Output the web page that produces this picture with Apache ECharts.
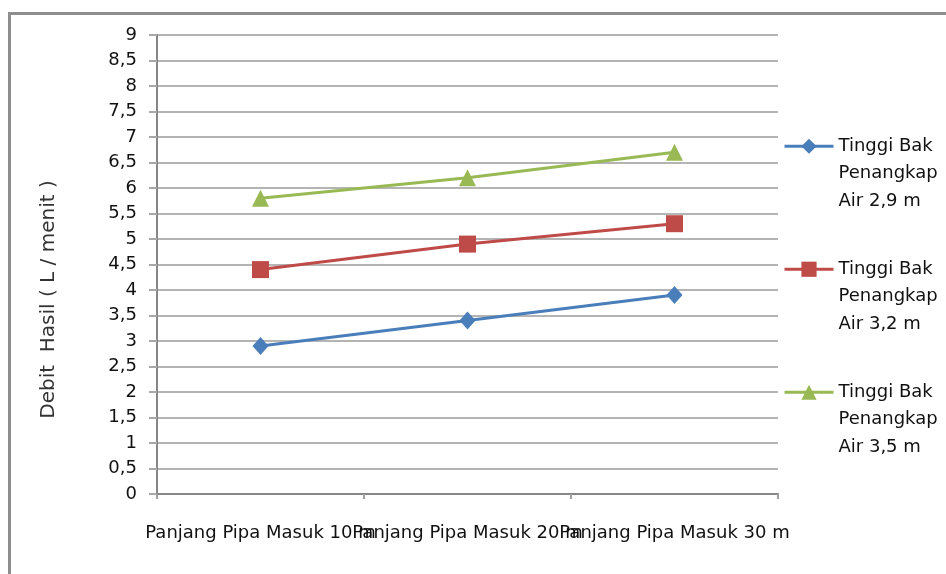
<!DOCTYPE html>
<html>
<head>
<meta charset="utf-8">
<script src="https://cdn.jsdelivr.net/npm/echarts@6/dist/echarts.min.js"></script>
<style>
html,body{margin:0;padding:0;background:#fff;}
#c{width:946px;height:574px;}
</style>
</head>
<body>
<div id="c"></div>
<script>
const categories = ['Panjang Pipa Masuk 10 m', 'Panjang Pipa Masuk 20 m', 'Panjang Pipa Masuk 30 m'];
const seriesNames = ['Tinggi Bak Penangkap Air 2,9 m', 'Tinggi Bak Penangkap Air 3,2 m', 'Tinggi Bak Penangkap Air 3,5 m'];
const values29 = [2.9, 3.4, 3.9];
const values32 = [4.4, 4.9, 5.3];
const values35 = [5.8, 6.2, 6.7];
const yTitle = 'Debit  Hasil ( L / menit )';

const colors = ['#4a7ebb', '#be4b48', '#98b954'];
const symbols = ['diamond', 'rect', 'triangle'];
const symbolSizes = [[16, 18], 17, 17];
const allValues = [values29, values32, values35];
const FONT = 'DejaVu Sans';

const chart = echarts.init(document.getElementById('c'), null, {renderer: 'canvas'});

const legendTops = [77.5, 200.5, 323.5];
const legends = seriesNames.map((n, i) => ({
  data: [n],
  orient: 'vertical',
  left: 783,
  top: legendTops[i],
  padding: 0,
  itemWidth: 49,
  itemHeight: 19,
  itemGap: 0,
  selectedMode: false,
  lineStyle: {width: 3},
  formatter: name => '\n\n' + name.replace('Bak ', 'Bak\n').replace('Penangkap ', 'Penangkap\n'),
  textStyle: {
    fontFamily: FONT, fontSize: 18, color: '#111', lineHeight: 27.5
  }
}));

chart.setOption({
  animation: false,
  backgroundColor: '#fff',
  graphic: [{
    type: 'rect', silent: true,
    shape: {x: 9.5, y: 13.5, width: 1000, height: 1000},
    style: {fill: 'none', stroke: '#8e8e8e', lineWidth: 3}
  }],
  grid: {left: 157, top: 35, width: 621, height: 459, containLabel: false},
  legend: legends,
  xAxis: {
    type: 'category',
    data: categories,
    boundaryGap: true,
    axisLine: {lineStyle: {color: '#868686', width: 2}},
    axisTick: {show: true, length: 5, interval: 0, lineStyle: {color: '#a0a0a0', width: 2}},
    axisLabel: {interval: 0, margin: 30, fontFamily: FONT, fontSize: 18, color: '#111'},
    splitLine: {show: false}
  },
  yAxis: {
    type: 'value',
    min: 0, max: 9, interval: 0.5,
    name: yTitle,
    nameLocation: 'middle',
    nameRotate: 90,
    nameGap: 98,
    nameTextStyle: {fontFamily: FONT, fontSize: 20, color: '#333', padding: [0, 70, 0, 0]},
    axisLine: {show: true, lineStyle: {color: '#868686', width: 2}},
    axisTick: {show: true, length: 8, lineStyle: {color: '#a8a8a8', width: 2}},
    axisLabel: {
      margin: 20, fontFamily: FONT, fontSize: 18, color: '#111',
      formatter: v => String(v).replace('.', ',')
    },
    splitLine: {show: true, lineStyle: {color: '#b4b4b4', width: 2}}
  },
  series: seriesNames.map((n, i) => ({
    name: n,
    type: 'line',
    data: allValues[i],
    symbol: symbols[i],
    symbolSize: symbolSizes[i],
    showSymbol: true,
    lineStyle: {color: colors[i], width: 3},
    itemStyle: {color: colors[i]},
    z: 3 + i
  }))
});
</script>
</body>
</html>
